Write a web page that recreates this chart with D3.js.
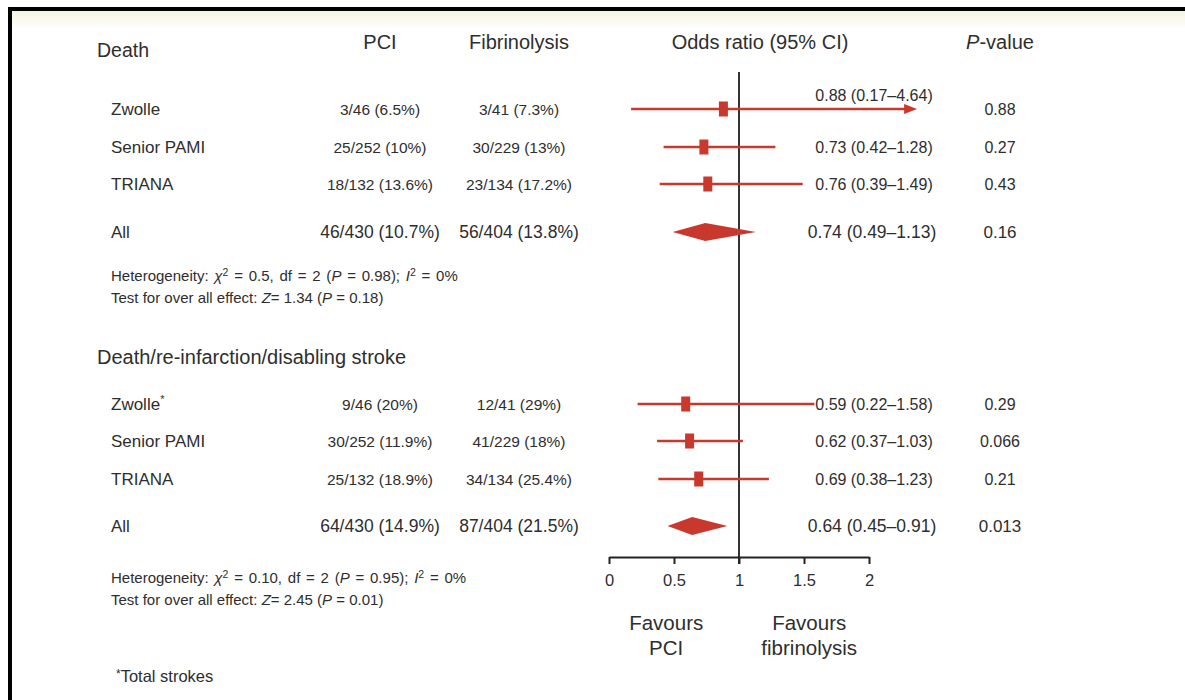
<!DOCTYPE html>
<html>
<head>
<meta charset="utf-8">
<script src="https://cdn.jsdelivr.net/npm/d3@7"></script>
<style>
  body { margin: 0; background: #fff; }
  svg { display: block; }
  text { font-family: "Liberation Sans", Arial, Helvetica, sans-serif; fill: #2e2e2e; }
</style>
</head>
<body>
<svg id="chart" width="1185" height="700"></svg>
<script>
// ---- data ----
const outcomes = ["Death", "Death/re-infarction/disabling stroke"];
const studies = ["Zwolle", "Senior PAMI", "TRIANA", "All"];

// Death
const pciDeath = ["3/46 (6.5%)", "25/252 (10%)", "18/132 (13.6%)", "46/430 (10.7%)"];
const fibDeath = ["3/41 (7.3%)", "30/229 (13%)", "23/134 (17.2%)", "56/404 (13.8%)"];
const orDeath = [0.88, 0.73, 0.76, 0.74];
const loDeath = [0.17, 0.42, 0.39, 0.49];
const hiDeath = [4.64, 1.28, 1.49, 1.13];
const pDeath = ["0.88", "0.27", "0.43", "0.16"];
const hetDeath = { chi2: "0.5", df: "2", p: "0.98", i2: "0%", z: "1.34", pz: "0.18" };

// Death / re-infarction / disabling stroke
const pciComposite = ["9/46 (20%)", "30/252 (11.9%)", "25/132 (18.9%)", "64/430 (14.9%)"];
const fibComposite = ["12/41 (29%)", "41/229 (18%)", "34/134 (25.4%)", "87/404 (21.5%)"];
const orComposite = [0.59, 0.62, 0.69, 0.64];
const loComposite = [0.22, 0.37, 0.38, 0.45];
const hiComposite = [1.58, 1.03, 1.23, 0.91];
const pComposite = ["0.29", "0.066", "0.21", "0.013"];
const hetComposite = { chi2: "0.10", df: "2", p: "0.95", i2: "0%", z: "2.45", pz: "0.01" };

const axisTicks = [0, 0.5, 1, 1.5, 2];
const columnHeaders = ["PCI", "Fibrinolysis", "Odds ratio (95% CI)"];
const favoursLeft = ["Favours", "PCI"];
const favoursRight = ["Favours", "fibrinolysis"];
const footnote = "Total strokes";

// ---- layout ----
const svg = d3.select("#chart");
const red = "#c9382d";
const ink = "#2e2e2e";

// frame: heavy rule along top and left edge with a faint cream wash under the top rule
const defs = svg.append("defs");
const grad = defs.append("linearGradient").attr("id", "wash").attr("x1", 0).attr("y1", 0).attr("x2", 0).attr("y2", 1);
grad.append("stop").attr("offset", "0%").attr("stop-color", "#f4f4e2");
grad.append("stop").attr("offset", "100%").attr("stop-color", "#ffffff");
svg.append("rect").attr("x", 12).attr("y", 11).attr("width", 1173).attr("height", 18).attr("fill", "url(#wash)");
svg.append("rect").attr("x", 8).attr("y", 7).attr("width", 1177).attr("height", 4).attr("fill", "#000");
svg.append("rect").attr("x", 8).attr("y", 7).attr("width", 4).attr("height", 693).attr("fill", "#000");

const x = d3.scaleLinear().domain([0, 2]).range([609, 869]);
const arrowClip = 2.37;            // right-most value drawn before an arrow is used
const axisY = 557;
const refTop = 72;

const colName = 111, colPci = 380, colFib = 519, colOr = 874, colP = 1000;

// header row
svg.append("text").attr("x", 97).attr("y", 57).attr("font-size", 19.5).text(outcomes[0]);
svg.selectAll("text.colhead").data(columnHeaders).join("text")
  .attr("class", "colhead")
  .attr("x", (d, i) => [colPci, colFib, 760][i])
  .attr("y", 49).attr("text-anchor", "middle").attr("font-size", 20).text(d => d);
const ph = svg.append("text").attr("x", colP).attr("y", 49).attr("text-anchor", "middle").attr("font-size", 20);
ph.append("tspan").attr("font-style", "italic").text("P");
ph.append("tspan").text("-value");

// reference line at OR = 1
svg.append("line")
  .attr("x1", x(1)).attr("x2", x(1)).attr("y1", refTop).attr("y2", axisY + 7)
  .attr("stroke", "#333").attr("stroke-width", 2);

function fmt(v) { return v.toFixed(2); }

function drawSection(cfg) {
  const g = svg.append("g");
  if (cfg.title) {
    g.append("text").attr("x", 97).attr("y", cfg.titleY).attr("font-size", 20).text(cfg.title);
  }
  cfg.rows.forEach((yy, i) => {
    const isAll = i === 3;
    const fsName = 17, fsVal = isAll ? 17.5 : 15.5, fsOr = isAll ? 17.5 : 16, fsP = isAll ? 17 : 16;

    const nm = g.append("text").attr("x", colName).attr("y", yy + 6).attr("font-size", fsName).text(studies[i]);
    if (cfg.star && i === 0) nm.append("tspan").attr("font-size", 11).attr("dy", -7).text("*");

    g.append("text").attr("x", colPci).attr("y", yy + 5.5).attr("text-anchor", "middle")
      .attr("font-size", fsVal).text(cfg.pci[i]);
    g.append("text").attr("x", colFib).attr("y", yy + 5.5).attr("text-anchor", "middle")
      .attr("font-size", fsVal).text(cfg.fib[i]);

    const or = cfg.or[i], lo = cfg.lo[i], hi = cfg.hi[i];
    const clipped = hi > arrowClip;
    const label = `${fmt(or)} (${fmt(lo)}\u2013${fmt(hi)})`;
    g.append("text").attr("x", isAll ? colOr - 2 : colOr).attr("y", yy + (clipped ? -8 : 6))
      .attr("text-anchor", "middle").attr("font-size", fsOr).text(label);
    g.append("text").attr("x", colP).attr("y", yy + 6).attr("text-anchor", "middle")
      .attr("font-size", fsP).text(cfg.p[i]);

    if (isAll) {
      // pooled estimate diamond
      const h = 9;
      const pts = [[x(lo), yy], [x(or), yy - h], [x(hi), yy], [x(or), yy + h]];
      g.append("path").attr("d", d3.line()(pts) + "Z").attr("fill", red);
    } else {
      const end = clipped ? arrowClip : hi;
      const head = clipped ? 12 : 0;
      g.append("line").attr("x1", x(lo)).attr("x2", x(end) - head)
        .attr("y1", yy).attr("y2", yy).attr("stroke", red).attr("stroke-width", 2.6);
      if (clipped) {
        const tip = x(end);
        g.append("path").attr("d", d3.line()([[tip - 13, yy - 5], [tip, yy], [tip - 13, yy + 5]]) + "Z")
          .attr("fill", red);
      }
      g.append("rect").attr("x", x(or) - 4.5).attr("y", yy - 7.5).attr("width", 9).attr("height", 15)
        .attr("fill", red);
    }
  });

  // heterogeneity / overall effect lines
  const h = cfg.het;
  const t1 = g.append("text").attr("x", colName).attr("y", cfg.hetY).attr("font-size", 15)
    .attr("word-spacing", 1.6);
  t1.append("tspan").text("Heterogeneity: ");
  t1.append("tspan").attr("font-style", "italic").text("\u03C7");
  t1.append("tspan").attr("font-size", 10.5).attr("dy", -5).text("2");
  t1.append("tspan").attr("dy", 5).text(` = ${h.chi2}, df = ${h.df} (`);
  t1.append("tspan").attr("font-style", "italic").text("P");
  t1.append("tspan").text(` = ${h.p}); `);
  t1.append("tspan").attr("font-style", "italic").text("I");
  t1.append("tspan").attr("font-size", 10.5).attr("dy", -5).text("2");
  t1.append("tspan").attr("dy", 5).text(` = ${h.i2}`);

  const t2 = g.append("text").attr("x", colName).attr("y", cfg.hetY + 22).attr("font-size", 15);
  t2.append("tspan").text("Test for over all effect: ");
  t2.append("tspan").attr("font-style", "italic").text("Z");
  t2.append("tspan").text(`= ${h.z} (`);
  t2.append("tspan").attr("font-style", "italic").text("P");
  t2.append("tspan").text(` = ${h.pz})`);
}

drawSection({
  title: null, rows: [109, 147, 184, 232], hetY: 281,
  pci: pciDeath, fib: fibDeath, or: orDeath, lo: loDeath, hi: hiDeath, p: pDeath, het: hetDeath
});
drawSection({
  title: outcomes[1], titleY: 364, rows: [404, 441, 479, 526], star: true, hetY: 583,
  pci: pciComposite, fib: fibComposite, or: orComposite, lo: loComposite, hi: hiComposite, p: pComposite, het: hetComposite
});

// x axis
const axis = d3.axisBottom(x).tickValues(axisTicks).tickSize(7).tickSizeOuter(0)
  .tickFormat(d => d3.format("")(d));
const ag = svg.append("g").attr("transform", `translate(0,${axisY})`).call(axis);
ag.select(".domain").attr("stroke", "#222").attr("stroke-width", 2);
ag.selectAll(".tick line").attr("stroke", "#222").attr("stroke-width", 2);
ag.selectAll(".tick text").attr("font-size", 16.5).attr("fill", ink).attr("dy", "1.15em")
  .attr("font-family", "Liberation Sans, Arial, sans-serif");

// direction labels beneath the axis
function favours(lines, v) {
  const t = svg.append("text").attr("x", x(v)).attr("y", 630).attr("text-anchor", "middle").attr("font-size", 20.5);
  lines.forEach((l, i) => t.append("tspan").attr("x", x(v)).attr("dy", i ? 25 : 0).text(l));
}
favours(favoursLeft, 0.44);
favours(favoursRight, 1.54);

// footnote
const fn = svg.append("text").attr("x", 116).attr("y", 682).attr("font-size", 16.5);
fn.append("tspan").attr("font-size", 12).attr("dy", -4).text("*");
fn.append("tspan").attr("dy", 4).text(footnote);
</script>
</body>
</html>
